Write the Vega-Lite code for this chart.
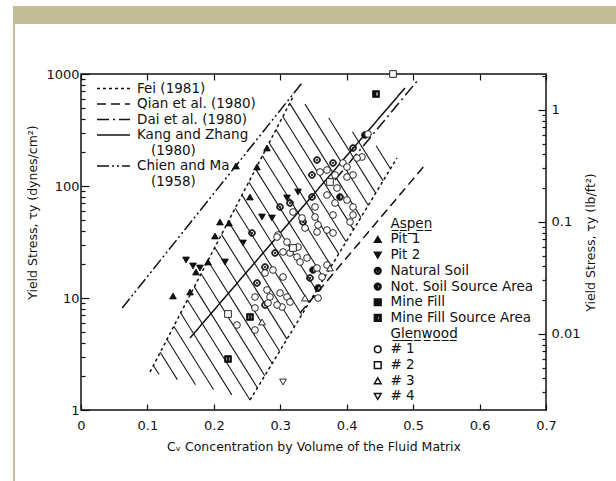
{
  "$schema": "https://vega.github.io/schema/vega-lite/v6.json",
  "width": 465,
  "height": 336,
  "autosize": {"type": "none"},
  "padding": {"left": 81, "top": 74, "right": 70, "bottom": 71},
  "background": "white",
  "datasets": {
    "hatch": [
      {"id": 1, "x": 0.1090, "y": 2.497}, {"id": 1, "x": 0.1176, "y": 2.075},
      {"id": 2, "x": 0.1192, "y": 3.275}, {"id": 2, "x": 0.1450, "y": 1.868},
      {"id": 3, "x": 0.1295, "y": 4.287}, {"id": 3, "x": 0.1724, "y": 1.682},
      {"id": 4, "x": 0.1397, "y": 5.602}, {"id": 4, "x": 0.1996, "y": 1.515},
      {"id": 5, "x": 0.1501, "y": 7.346}, {"id": 5, "x": 0.2270, "y": 1.364},
      {"id": 6, "x": 0.1603, "y": 9.596}, {"id": 6, "x": 0.2544, "y": 1.228},
      {"id": 7, "x": 0.1706, "y": 12.56}, {"id": 7, "x": 0.2655, "y": 1.578},
      {"id": 8, "x": 0.1808, "y": 16.48}, {"id": 8, "x": 0.2767, "y": 2.024},
      {"id": 9, "x": 0.1910, "y": 21.53}, {"id": 9, "x": 0.2878, "y": 2.602},
      {"id": 10, "x": 0.2013, "y": 28.25}, {"id": 10, "x": 0.2990, "y": 3.343},
      {"id": 11, "x": 0.2115, "y": 36.98}, {"id": 11, "x": 0.3101, "y": 4.296},
      {"id": 12, "x": 0.2217, "y": 48.30}, {"id": 12, "x": 0.3212, "y": 5.510},
      {"id": 13, "x": 0.2321, "y": 63.37}, {"id": 13, "x": 0.3324, "y": 7.079},
      {"id": 14, "x": 0.2424, "y": 82.95}, {"id": 14, "x": 0.3434, "y": 9.097},
      {"id": 15, "x": 0.2526, "y": 108.6}, {"id": 15, "x": 0.3545, "y": 11.67},
      {"id": 16, "x": 0.2628, "y": 142.1}, {"id": 16, "x": 0.3656, "y": 14.99},
      {"id": 17, "x": 0.2731, "y": 186.1}, {"id": 17, "x": 0.3768, "y": 19.27},
      {"id": 18, "x": 0.2833, "y": 243.5}, {"id": 18, "x": 0.3879, "y": 24.76},
      {"id": 19, "x": 0.2935, "y": 318.8}, {"id": 19, "x": 0.3991, "y": 31.76},
      {"id": 20, "x": 0.3038, "y": 417.5}, {"id": 20, "x": 0.4102, "y": 40.80},
      {"id": 21, "x": 0.3142, "y": 546.4}, {"id": 21, "x": 0.4213, "y": 52.44},
      {"id": 22, "x": 0.3372, "y": 538.7}, {"id": 22, "x": 0.4325, "y": 67.24},
      {"id": 23, "x": 0.3729, "y": 404.8}, {"id": 23, "x": 0.4436, "y": 86.43},
      {"id": 24, "x": 0.4086, "y": 304.8}, {"id": 24, "x": 0.4548, "y": 111.1},
      {"id": 25, "x": 0.4442, "y": 229.0}, {"id": 25, "x": 0.4659, "y": 142.7}
    ],
    "lines": [
      {"series": "Fei (1981)", "seg": "f1", "x": 0.1039, "y": 2.184},
      {"series": "Fei (1981)", "seg": "f1", "x": 0.3191, "y": 623.2},
      {"series": "Fei (1981)", "seg": "f2", "x": 0.2544, "y": 1.228},
      {"series": "Fei (1981)", "seg": "f2", "x": 0.4757, "y": 177.8},
      {"series": "Qian et al. (1980)", "seg": "q", "x": 0.3297, "y": 7.345},
      {"series": "Qian et al. (1980)", "seg": "q", "x": 0.5178, "y": 154},
      {"series": "Dai et al. (1980)", "seg": "d", "x": 0.3824, "y": 113.1},
      {"series": "Dai et al. (1980)", "seg": "d", "x": 0.5073, "y": 884},
      {"series": "Kang and Zhang", "seg": "k", "x": 0.1641, "y": 4.395},
      {"series": "Kang and Zhang", "seg": "k", "x": 0.4877, "y": 750},
      {"series": "Chien and Ma", "seg": "c", "x": 0.062, "y": 8.13},
      {"series": "Chien and Ma", "seg": "c", "x": 0.334, "y": 850}
    ],
    "points": [
      {"group": "Pit 1", "x": 0.1385, "y": 10.42},
      {"group": "Pit 1", "x": 0.1641, "y": 11.31},
      {"group": "Pit 1", "x": 0.1731, "y": 17.07},
      {"group": "Pit 1", "x": 0.1912, "y": 20.96},
      {"group": "Pit 1", "x": 0.2017, "y": 35.78},
      {"group": "Pit 1", "x": 0.2092, "y": 47.71},
      {"group": "Pit 1", "x": 0.2228, "y": 46.73},
      {"group": "Pit 1", "x": 0.2544, "y": 79.76},
      {"group": "Pit 1", "x": 0.2333, "y": 150.9},
      {"group": "Pit 1", "x": 0.2649, "y": 147.8},
      {"group": "Pit 1", "x": 0.2800, "y": 218.4},
      {"group": "Pit 2", "x": 0.1581, "y": 21.84},
      {"group": "Pit 2", "x": 0.1686, "y": 19.31},
      {"group": "Pit 2", "x": 0.1791, "y": 18.53},
      {"group": "Pit 2", "x": 0.2168, "y": 20.96},
      {"group": "Pit 2", "x": 0.2439, "y": 30.98},
      {"group": "Pit 2", "x": 0.2725, "y": 52.86},
      {"group": "Pit 2", "x": 0.2875, "y": 51.79},
      {"group": "Pit 2", "x": 0.3101, "y": 78.14},
      {"group": "Pit 2", "x": 0.3267, "y": 88.38},
      {"group": "Natural Soil", "x": 0.4095, "y": 218.4},
      {"group": "Natural Soil", "x": 0.3794, "y": 160.5},
      {"group": "Natural Soil", "x": 0.3553, "y": 170.7},
      {"group": "Natural Soil", "x": 0.3477, "y": 125.4},
      {"group": "Natural Soil", "x": 0.3477, "y": 79.76},
      {"group": "Natural Soil", "x": 0.3342, "y": 47.71},
      {"group": "Natural Soil", "x": 0.3146, "y": 70.52},
      {"group": "Natural Soil", "x": 0.2996, "y": 64.94},
      {"group": "Natural Soil", "x": 0.2921, "y": 25.23},
      {"group": "Natural Soil", "x": 0.2574, "y": 38.06},
      {"group": "Natural Soil", "x": 0.3447, "y": 15.09},
      {"group": "Natural Soil", "x": 0.2770, "y": 18.92},
      {"group": "Natural Soil", "x": 0.2649, "y": 13.61},
      {"group": "Natural Soil", "x": 0.2770, "y": 8.66},
      {"group": "Not. Soil Source Area", "x": 0.4275, "y": 285.3},
      {"group": "Not. Soil Source Area", "x": 0.3899, "y": 79.76},
      {"group": "Not. Soil Source Area", "x": 0.3568, "y": 12.28},
      {"group": "Not. Soil Source Area", "x": 0.3493, "y": 17.78},
      {"group": "Mine Fill", "x": 0.2544, "y": 6.766},
      {"group": "Mine Fill", "x": 0.2213, "y": 2.854},
      {"group": "Mine Fill Source Area", "x": 0.4441, "y": 662.6},
      {"group": "# 1", "x": 0.4320, "y": 291.2},
      {"group": "# 1", "x": 0.4230, "y": 181.5},
      {"group": "# 1", "x": 0.4155, "y": 177.8},
      {"group": "# 1", "x": 0.3944, "y": 160.5},
      {"group": "# 1", "x": 0.4004, "y": 147.8},
      {"group": "# 1", "x": 0.3598, "y": 133.4},
      {"group": "# 1", "x": 0.3703, "y": 138.9},
      {"group": "# 1", "x": 0.3824, "y": 125.4},
      {"group": "# 1", "x": 0.4004, "y": 120.3},
      {"group": "# 1", "x": 0.4095, "y": 125.4},
      {"group": "# 1", "x": 0.3854, "y": 95.96},
      {"group": "# 1", "x": 0.3703, "y": 83.1},
      {"group": "# 1", "x": 0.3523, "y": 64.94},
      {"group": "# 1", "x": 0.3824, "y": 70.52},
      {"group": "# 1", "x": 0.4004, "y": 74.99},
      {"group": "# 1", "x": 0.4095, "y": 64.94},
      {"group": "# 1", "x": 0.4095, "y": 55.10},
      {"group": "# 1", "x": 0.3794, "y": 55.10},
      {"group": "# 1", "x": 0.3523, "y": 52.86},
      {"group": "# 1", "x": 0.3372, "y": 42.17},
      {"group": "# 1", "x": 0.3553, "y": 38.85},
      {"group": "# 1", "x": 0.3191, "y": 58.61},
      {"group": "# 1", "x": 0.2966, "y": 36.52},
      {"group": "# 1", "x": 0.3101, "y": 31.62},
      {"group": "# 1", "x": 0.3267, "y": 28.54},
      {"group": "# 1", "x": 0.3146, "y": 25.23},
      {"group": "# 1", "x": 0.3327, "y": 51.79},
      {"group": "# 1", "x": 0.3568, "y": 44.86},
      {"group": "# 1", "x": 0.4050, "y": 47.71},
      {"group": "# 1", "x": 0.3703, "y": 40.47},
      {"group": "# 1", "x": 0.3794, "y": 38.06},
      {"group": "# 1", "x": 0.2951, "y": 35.04},
      {"group": "# 1", "x": 0.3041, "y": 25.75},
      {"group": "# 1", "x": 0.3252, "y": 23.23},
      {"group": "# 1", "x": 0.3297, "y": 20.96},
      {"group": "# 1", "x": 0.3402, "y": 22.76},
      {"group": "# 1", "x": 0.3553, "y": 18.53},
      {"group": "# 1", "x": 0.3703, "y": 19.71},
      {"group": "# 1", "x": 0.3628, "y": 15.40},
      {"group": "# 1", "x": 0.2770, "y": 16.72},
      {"group": "# 1", "x": 0.2890, "y": 17.78},
      {"group": "# 1", "x": 0.3041, "y": 15.40},
      {"group": "# 1", "x": 0.2800, "y": 11.79},
      {"group": "# 1", "x": 0.2619, "y": 10.21},
      {"group": "# 1", "x": 0.2845, "y": 10.21},
      {"group": "# 1", "x": 0.2996, "y": 11.08},
      {"group": "# 1", "x": 0.3101, "y": 10.21},
      {"group": "# 1", "x": 0.3568, "y": 10.0},
      {"group": "# 1", "x": 0.2815, "y": 9.024},
      {"group": "# 1", "x": 0.3026, "y": 8.312},
      {"group": "# 1", "x": 0.2619, "y": 8.143},
      {"group": "# 1", "x": 0.2951, "y": 8.66},
      {"group": "# 1", "x": 0.3146, "y": 9.21},
      {"group": "# 1", "x": 0.2348, "y": 5.741},
      {"group": "# 1", "x": 0.2619, "y": 5.179},
      {"group": "# 2", "x": 0.3748, "y": 108.6},
      {"group": "# 2", "x": 0.3191, "y": 27.95},
      {"group": "# 2", "x": 0.2213, "y": 7.197},
      {"group": "# 2", "x": 0.4697, "y": 1000},
      {"group": "# 3", "x": 0.3372, "y": 10.0},
      {"group": "# 3", "x": 0.2725, "y": 6.105},
      {"group": "# 3", "x": 0.3748, "y": 18.53},
      {"group": "# 4", "x": 0.3041, "y": 1.778}
    ],
    "rightaxis": [{"lb": 0.01}, {"lb": 1}]
  },
  "layer": [
    {
      "layer": [
        {
          "data": {"values": [{}]},
          "mark": {"type": "rect", "color": "#c2bd98", "clip": false},
          "encoding": {
            "x": {"datum": -0.1024, "type": "quantitative", "scale": {"domain": [0, 0.7], "nice": false, "zero": false}, "axis": null},
            "x2": {"datum": 0.95},
            "y": {"datum": 4046, "type": "quantitative", "scale": {"type": "log", "domain": [1, 1000], "nice": false}, "axis": null},
            "y2": {"datum": 2794}
          }
        },
        {
          "data": {"values": [{}]},
          "mark": {"type": "rect", "color": "#c2bd98", "clip": false},
          "encoding": {
            "x": {"datum": -0.1024, "type": "quantitative", "scale": {"domain": [0, 0.7], "nice": false, "zero": false}, "axis": null},
            "x2": {"datum": -0.0994},
            "y": {"datum": 2794, "type": "quantitative", "scale": {"type": "log", "domain": [1, 1000], "nice": false}, "axis": null},
            "y2": {"datum": 0.2}
          }
        },
        {
          "data": {"name": "hatch"},
          "mark": {"type": "line", "color": "#1a1a1a", "strokeWidth": 1.1},
          "encoding": {
            "x": {"field": "x", "type": "quantitative", "scale": {"domain": [0, 0.7], "nice": false, "zero": false},
              "axis": {"orient": "top", "values": [0, 0.1, 0.2, 0.3, 0.4, 0.5, 0.6, 0.7], "labels": false, "tickSize": -6, "title": null}},
            "y": {"field": "y", "type": "quantitative", "scale": {"type": "log", "domain": [1, 1000], "nice": false}, "axis": null},
            "detail": {"field": "id", "type": "nominal"}
          }
        },
        {
          "data": {"name": "lines"},
          "mark": {"type": "line", "color": "#111", "strokeWidth": 1.5},
          "encoding": {
            "x": {"field": "x", "type": "quantitative", "scale": {"domain": [0, 0.7], "nice": false, "zero": false}, "axis": null},
            "y": {"field": "y", "type": "quantitative", "scale": {"type": "log", "domain": [1, 1000], "nice": false}, "axis": null},
            "detail": {"field": "seg", "type": "nominal"},
            "strokeDash": {
              "field": "series", "type": "nominal",
              "scale": {
                "domain": ["Fei (1981)", "Qian et al. (1980)", "Dai et al. (1980)", "Kang and Zhang", "(1980)", "Chien and Ma", "(1958)"],
                "range": [[3, 3], [9, 5], [12, 4, 2, 4], [1, 0], [0, 1000], [12, 3, 2, 3, 2, 3], [0, 1000]]
              },
              "legend": {
                "orient": "none", "legendX": 25, "legendY": 7, "title": null,
                "symbolType": "M-2.5,0H2.5", "symbolSize": 174, "symbolStrokeWidth": 1.5, "symbolStrokeColor": "#111",
                "labelOffset": 16, "rowPadding": 1.5, "padding": 0,
                "encode": {"labels": {"update": {"dx": {"signal": "datum.label == '(1980)' || datum.label == '(1958)' ? 14 : 0"}}}}
              }
            }
          }
        },
        {
          "data": {"name": "points"},
          "mark": {"type": "point", "filled": true, "stroke": "#111", "strokeWidth": 0.9, "size": 45, "opacity": 1},
          "encoding": {
            "x": {"field": "x", "type": "quantitative", "scale": {"domain": [0, 0.7], "nice": false, "zero": false},
              "axis": {"orient": "bottom", "values": [0, 0.1, 0.2, 0.3, 0.4, 0.5, 0.6, 0.7], "format": ".1~f", "tickSize": -6, "labelPadding": 15,
                "title": "Cᵥ Concentration by Volume of the Fluid Matrix", "titlePadding": 8}},
            "y": {"field": "y", "type": "quantitative", "scale": {"type": "log", "domain": [1, 1000], "nice": false},
              "axis": {"orient": "left",
                "values": [1, 2, 3, 4, 5, 6, 7, 8, 9, 10, 20, 30, 40, 50, 60, 70, 80, 90, 100, 200, 300, 400, 500, 600, 700, 800, 900, 1000],
                "labelExpr": "indexof([1, 10, 100, 1000], datum.value) >= 0 ? format(datum.value, 'd') : ''",
                "tickSize": {"condition": {"test": "indexof([1, 10, 100, 1000], datum.value) >= 0", "value": -8}, "value": -4},
                "labelPadding": 10, "title": "Yield Stress, τy (dynes/cm²)", "titlePadding": 6, "titleY": 138}},
            "shape": {
              "field": "group", "type": "nominal",
              "scale": {
                "domain": ["Aspen", "Pit 1", "Pit 2", "Natural Soil", "Not. Soil Source Area", "Mine Fill", "Mine Fill Source Area", "Glenwood", "# 1", "# 2", "# 3", "# 4"],
                "range": ["M0,0", "triangle-up", "triangle-down",
                  "M-1,0A1,1 0 1,1 1,0A1,1 0 1,1 -1,0ZM-0.72,0A0.72,0.72 0 1,0 0.72,0A0.72,0.72 0 1,0 -0.72,0ZM-0.22,0A0.22,0.22 0 1,1 0.22,0A0.22,0.22 0 1,1 -0.22,0Z",
                  "M-1,0A1,1 0 1,1 1,0A1,1 0 1,1 -1,0ZM-0.65,0A0.65,0.65 0 1,0 0.65,0A0.65,0.65 0 1,0 -0.65,0ZM0,-0.65A0.65,0.65 0 0,0 0,0.65Z",
                  "M-1,-1H1V1H-1ZM-0.6,-0.6V0.6H0.6V-0.6ZM-0.18,-0.6H0.18V0.6H-0.18Z",
                  "M-1,-1H1V1H-1ZM-0.6,-0.6V0.6H0.6V-0.6ZM-0.6,-0.6H0V0.6H-0.6Z",
                  "M0,0", "circle", "square", "triangle-up", "triangle-down"]
              },
              "legend": {
                "orient": "none", "legendX": 290, "legendY": 143, "title": null,
                "symbolSize": 45, "labelOffset": 6, "rowPadding": 0.7, "padding": 0,
                "labelExpr": "datum.label == 'Aspen' ? 'A\u0332s\u0332p\u0332e\u0332n\u0332' : datum.label == 'Glenwood' ? 'G\u0332l\u0332e\u0332n\u0332w\u0332o\u0332o\u0332d\u0332' : datum.label",
                "encode": {"symbols": {"update": {"stroke": {"value": "#111"}, "strokeWidth": {"value": 0.9}}}}
              }
            },
            "fill": {
              "field": "group", "type": "nominal",
              "scale": {
                "domain": ["Aspen", "Pit 1", "Pit 2", "Natural Soil", "Not. Soil Source Area", "Mine Fill", "Mine Fill Source Area", "Glenwood", "# 1", "# 2", "# 3", "# 4"],
                "range": ["transparent", "#111", "#111", "#111", "#111", "#111", "#111", "transparent", "white", "white", "white", "white"]
              },
              "legend": {
                "orient": "none", "legendX": 290, "legendY": 143, "title": null,
                "symbolSize": 45, "labelOffset": 6, "rowPadding": 0.7, "padding": 0,
                "labelExpr": "datum.label == 'Aspen' ? 'A\u0332s\u0332p\u0332e\u0332n\u0332' : datum.label == 'Glenwood' ? 'G\u0332l\u0332e\u0332n\u0332w\u0332o\u0332o\u0332d\u0332' : datum.label",
                "encode": {"symbols": {"update": {"stroke": {"value": "#111"}, "strokeWidth": {"value": 0.9}}}}
              }
            }
          }
        }
      ],
      "resolve": {"axis": {"x": "independent", "y": "independent"}}
    },
    {
      "data": {"name": "rightaxis"},
      "mark": {"type": "rule", "opacity": 0},
      "encoding": {
        "y": {"field": "lb", "type": "quantitative", "scale": {"type": "log", "domain": [0.0020886, 2.0886], "nice": false},
          "axis": {"orient": "right",
            "values": [0.003, 0.004, 0.005, 0.006, 0.007, 0.008, 0.009, 0.01, 0.02, 0.03, 0.04, 0.05, 0.06, 0.07, 0.08, 0.09, 0.1, 0.2, 0.3, 0.4, 0.5, 0.6, 0.7, 0.8, 0.9, 1, 2],
            "labelExpr": "indexof([0.01, 0.1, 1], datum.value) >= 0 ? format(datum.value, '~g') : ''",
            "tickSize": {"condition": {"test": "indexof([0.01, 0.1, 1], datum.value) >= 0", "value": -8}, "value": -4},
            "labelPadding": 13, "title": "Yield Stress, τy (lb/ft²)", "titleAngle": 270, "titlePadding": 18}}
      }
    }
  ],
  "resolve": {"scale": {"y": "independent"}, "axis": {"x": "independent", "y": "independent"}},
  "config": {
    "view": {"stroke": "#111", "strokeWidth": 1.5},
    "font": "DejaVu Sans",
    "axis": {"domain": false, "grid": false, "tickColor": "#111", "tickWidth": 1.2, "labelColor": "#111", "labelFontSize": 13,
      "labelFont": "DejaVu Sans", "titleFont": "DejaVu Sans", "titleColor": "#111", "titleFontWeight": "normal", "titleFontSize": 12.5,
      "labelOverlap": false, "labelFlush": false, "labelBound": false},
    "legend": {"labelFont": "DejaVu Sans", "labelColor": "#111", "labelFontSize": 13.5, "padding": 0}
  }
}
